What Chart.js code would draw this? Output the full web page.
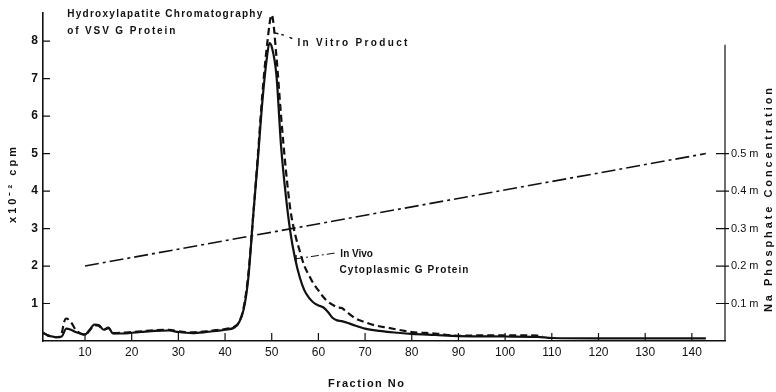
<!DOCTYPE html>
<html>
<head>
<meta charset="utf-8">
<script src="https://cdn.jsdelivr.net/npm/chart.js@4"></script>
<style>
  html, body { margin: 0; padding: 0; background: #fff; }
  #wrap { width: 776px; height: 392px; }
</style>
</head>
<body>
<div id="wrap"><canvas id="chart" width="776" height="392"></canvas></div>
<script>
"use strict"

// In vivo cytoplasmic G protein (solid)
const vivoFraction = [1, 2, 3, 4, 5, 6, 7, 8, 9, 10, 11, 12, 13, 14, 15, 16, 18, 20, 22, 25, 28, 30, 33, 36, 38, 40, 42,
  43, 44, 45, 46, 47, 48, 49, 49.5, 50, 51, 52, 53, 54, 55, 56, 57, 58, 59, 60, 61, 62, 63, 64, 65,
  67, 70, 73, 77, 80, 85, 90, 100, 107, 110, 120, 130, 143]
const vivoCpm = [0.22, 0.15, 0.12, 0.10, 0.12, 0.33, 0.30, 0.24, 0.20, 0.17, 0.30, 0.44, 0.42, 0.30, 0.36, 0.20,
  0.20, 0.22, 0.24, 0.27, 0.28, 0.24, 0.21, 0.24, 0.27, 0.30, 0.36,
  0.5, 0.85, 1.7, 3.3, 4.8, 6.4, 7.6, 7.95, 7.85, 7.1, 5.2, 3.9, 2.9, 2.2, 1.7, 1.35, 1.15, 1.02, 0.95, 0.9, 0.78, 0.62, 0.55, 0.53,
  0.45, 0.33, 0.27, 0.22, 0.19, 0.16, 0.13, 0.12, 0.11, 0.08, 0.07, 0.07, 0.07]

// In vitro product (dashed)
const vitroFraction = [1, 2, 3, 4, 5, 5.5, 6, 7, 8, 9, 10, 11, 12, 13, 14, 15, 16, 18, 20, 22, 25, 28, 30, 33, 36, 38, 40, 42,
  43, 44, 45, 46, 47, 48, 49, 50, 51, 52, 53, 54, 55, 56, 57, 58, 59, 60, 61, 62, 63, 64, 65, 66,
  68, 70, 72, 75, 78, 80, 85, 90, 95, 100, 105, 108]
const vitroCpm = [0.22, 0.15, 0.12, 0.10, 0.2, 0.5, 0.6, 0.5, 0.3, 0.2, 0.17, 0.28, 0.42, 0.40, 0.30, 0.34, 0.21,
  0.22, 0.24, 0.26, 0.29, 0.30, 0.26, 0.23, 0.26, 0.29, 0.32, 0.38,
  0.5, 0.9, 1.8, 3.3, 4.9, 6.6, 7.9, 8.7, 7.6, 6.0, 4.6, 3.5, 2.85, 2.4, 2.0, 1.75, 1.52, 1.35, 1.18, 1.05, 0.97, 0.9, 0.88, 0.78,
  0.6, 0.5, 0.42, 0.35, 0.28, 0.24, 0.2, 0.14, 0.15, 0.15, 0.15, 0.14]

// Na phosphate gradient (dash-dot, right axis)
const phosphateFraction = [10, 143]
const phosphateConc = [0.2, 0.5]

// Tick labels
const xTicks = [10, 20, 30, 40, 50, 60, 70, 80, 90, 100, 110, 120, 130, 140]
const cpmTicks = [1, 2, 3, 4, 5, 6, 7, 8]
const concTicks = [0.1, 0.2, 0.3, 0.4, 0.5]

function toPoints(xs, ys) {
  return xs.map((x, i) => ({ x: x, y: ys[i] }))
}

// Text with letter spacing stretched to a width
function spaced(ctx, text, px, py, width) {
  ctx.letterSpacing = "0px"
  const w = ctx.measureText(text).width
  const s = Math.max(0, (width - w) / (text.length - 1))
  ctx.letterSpacing = s + "px"
  ctx.fillText(text, px, py)
  ctx.letterSpacing = "0px"
}

const ink = "#111"

const decor = {
  id: "decor",
  afterDraw(chart) {
    const ctx = chart.ctx
    const { x, y, y2 } = chart.scales
    const area = chart.chartArea
    ctx.save()
    ctx.strokeStyle = ink
    ctx.fillStyle = ink
    ctx.lineWidth = 1.2

    // inward tick marks
    ctx.beginPath()
    xTicks.forEach(t => {
      const px = x.getPixelForValue(t)
      ctx.moveTo(px, area.bottom); ctx.lineTo(px, area.bottom - 8)
    })
    cpmTicks.forEach(t => {
      const py = y.getPixelForValue(t)
      ctx.moveTo(area.left, py); ctx.lineTo(area.left + 7, py)
    })
    concTicks.forEach(t => {
      const py = y2.getPixelForValue(t)
      ctx.moveTo(area.right - 9, py); ctx.lineTo(area.right + 4, py)
    })
    // right axis line (shorter than the left one)
    ctx.moveTo(area.right, y2.getPixelForValue(0.79)); ctx.lineTo(area.right, area.bottom)
    ctx.stroke()

    // heading
    ctx.textBaseline = "middle"
    ctx.textAlign = "left"
    ctx.font = "bold 10px 'Liberation Sans'"
    spaced(ctx, "Hydroxylapatite Chromatography", x.getPixelForValue(6.2), y.getPixelForValue(8.72), 195)
    spaced(ctx, "of VSV G Protein", x.getPixelForValue(6.2), y.getPixelForValue(8.27), 108)

    // in vitro label and leader
    spaced(ctx, "In Vitro Product", x.getPixelForValue(55.5), y.getPixelForValue(7.95), 110)
    ctx.lineWidth = 1.5
    ctx.setLineDash([4, 3])
    ctx.beginPath()
    ctx.moveTo(x.getPixelForValue(50.6), y.getPixelForValue(8.22))
    ctx.lineTo(x.getPixelForValue(52.6), y.getPixelForValue(8.16))
    ctx.moveTo(x.getPixelForValue(53.8), y.getPixelForValue(8.1))
    ctx.lineTo(x.getPixelForValue(54.4), y.getPixelForValue(8.07))
    ctx.stroke()

    // in vivo label and leader
    spaced(ctx, "In Vivo", x.getPixelForValue(64.7), y.getPixelForValue(2.32), 30)
    spaced(ctx, "Cytoplasmic G Protein", x.getPixelForValue(64.5), y.getPixelForValue(1.89), 129)
    ctx.lineWidth = 1
    ctx.setLineDash([8, 3, 2, 3])
    ctx.beginPath()
    ctx.moveTo(x.getPixelForValue(55), y.getPixelForValue(2.19))
    ctx.lineTo(x.getPixelForValue(63.8), y.getPixelForValue(2.35))
    ctx.stroke()
    ctx.setLineDash([])
    ctx.lineWidth = 1.5
    ctx.beginPath()
    const ax = x.getPixelForValue(55.2), ay = y.getPixelForValue(2.19)
    ctx.moveTo(ax, ay - 4); ctx.lineTo(ax, ay + 4)
    ctx.stroke()

    // axis titles
    ctx.font = "bold 11px 'Liberation Sans'"
    ctx.textAlign = "left"
    spaced(ctx, "Fraction No", 328, 384, 76)

    ctx.save()
    ctx.translate(13, 185)
    ctx.rotate(-Math.PI / 2)
    spaced(ctx, "x10\u207B\u00B2 cpm", -38, 0, 76)
    ctx.restore()

    ctx.save()
    ctx.translate(769, 200)
    ctx.rotate(-Math.PI / 2)
    spaced(ctx, "Na Phosphate Concentration", -112, 0, 224)
    ctx.restore()

    ctx.restore()
  }
}

new Chart(document.getElementById("chart"), {
  type: "line",
  data: {
    datasets: [
      {
        label: "In Vivo Cytoplasmic G Protein",
        data: toPoints(vivoFraction, vivoCpm),
        yAxisID: "y",
        borderColor: ink,
        borderWidth: 2.2,
        pointRadius: 0,
        cubicInterpolationMode: "monotone"
      },
      {
        label: "In Vitro Product",
        data: toPoints(vitroFraction, vitroCpm),
        yAxisID: "y",
        borderColor: ink,
        borderWidth: 2.2,
        borderDash: [7, 4],
        pointRadius: 0,
        cubicInterpolationMode: "monotone"
      },
      {
        label: "Na Phosphate",
        data: toPoints(phosphateFraction, phosphateConc),
        yAxisID: "y2",
        borderColor: ink,
        borderWidth: 1.6,
        borderDash: [14, 4, 3, 4],
        pointRadius: 0
      }
    ]
  },
  options: {
    responsive: false,
    animation: false,
    layout: { padding: { top: 13 } },
    plugins: {
      legend: { display: false },
      tooltip: { enabled: false }
    },
    scales: {
      x: {
        type: "linear",
        min: 1,
        max: 147.1,
        afterFit: scale => { scale.height = 51 },
        afterBuildTicks: scale => { scale.ticks = xTicks.map(v => ({ value: v })) },
        grid: { display: false, drawTicks: false },
        border: { display: true, color: ink, width: 1.6 },
        ticks: {
          color: ink,
          padding: 4,
          maxRotation: 0,
          font: { family: "Liberation Sans", size: 12 }
        }
      },
      y: {
        position: "left",
        min: 0,
        max: 8.75,
        afterFit: scale => { scale.width = 43 },
        afterBuildTicks: scale => { scale.ticks = cpmTicks.map(v => ({ value: v })) },
        grid: { display: false, drawTicks: false },
        border: { display: true, color: ink, width: 1.6 },
        ticks: {
          color: ink,
          padding: 5,
          font: { family: "Liberation Sans", size: 12, weight: "bold" }
        }
      },
      y2: {
        position: "right",
        min: 0,
        max: 0.875,
        afterFit: scale => { scale.width = 51 },
        afterBuildTicks: scale => { scale.ticks = concTicks.map(v => ({ value: v })) },
        grid: { display: false, drawTicks: false },
        border: { display: false },
        ticks: {
          color: ink,
          padding: 6,
          font: { family: "Liberation Sans", size: 11 },
          callback: v => v.toFixed(1) + " m"
        }
      }
    }
  },
  plugins: [decor]
})
</script>
</body>
</html>
